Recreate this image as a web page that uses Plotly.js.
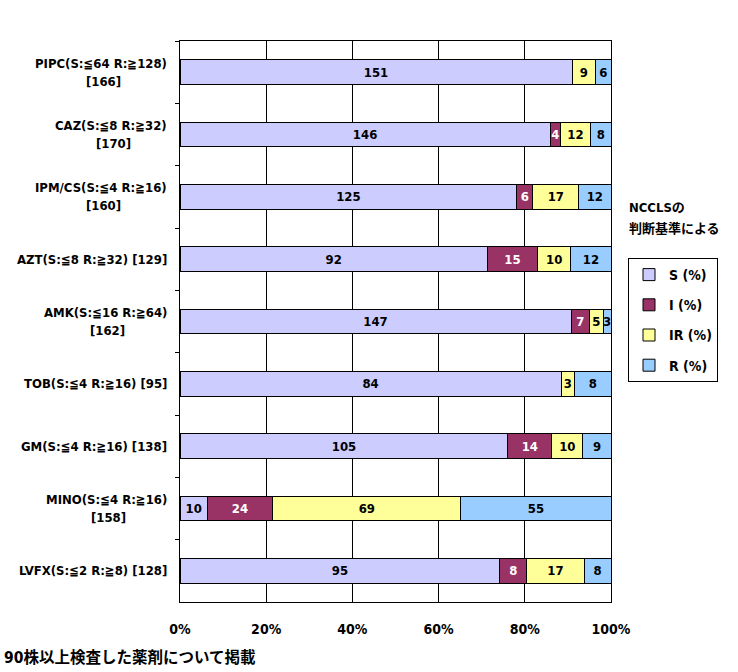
<!DOCTYPE html>
<html>
<head>
<meta charset="utf-8">
<script src="https://cdn.plot.ly/plotly-3.0.1.min.js"></script>
<style>html,body{margin:0;padding:0;background:#fff;}#chart{width:738px;height:672px;}</style>
</head>
<body>
<div id="chart"></div>
<script>
// ---- data (top to bottom) ----
const drugs = ['PIPC','CAZ','IPM/CS','AZT','AMK','TOB','GM','MINO','LVFX'];
const labelLine1 = [
  'PIPC(S:≦64 R:≧128)',
  'CAZ(S:≦8 R:≧32)',
  'IPM/CS(S:≦4 R:≧16)',
  'AZT(S:≦8 R:≧32) [129]',
  'AMK(S:≦16 R:≧64)',
  'TOB(S:≦4 R:≧16) [95]',
  'GM(S:≦4 R:≧16) [138]',
  'MINO(S:≦4 R:≧16)',
  'LVFX(S:≦2 R:≧8) [128]'
];
const labelLine2 = ['[166]','[170]','[160]','','[162]','','','[158]',''];
const seriesNames = ['S (%)','I (%)','IR (%)','R (%)'];
const valS  = [151,146,125, 92,147, 84,105, 10, 95];
const valI  = [  0,  4,  6, 15,  7,  0, 14, 24,  8];
const valIR = [  9, 12, 17, 10,  5,  3, 10, 69, 17];
const valR  = [  6,  8, 12, 12,  3,  8,  9, 55,  8];
const xTicks = [0,20,40,60,80,100];
const legendTitle1 = 'NCCLSの';
const legendTitle2 = '判断基準による';
const footNote = '90株以上検査した薬剤について掲載';

const FONT = '"DejaVu Sans Condensed", "Noto Sans CJK JP", sans-serif';
const LBL_SIZE = 13;
const colors = ['#CCCCFF','#993366','#FFFF99','#99CCFF'];
const textColors = ['#000000','#FFFFFF','#000000','#000000'];
const allVals = [valS, valI, valIR, valR];

const measureCtx = document.createElement('canvas').getContext('2d');
measureCtx.font = 'bold ' + LBL_SIZE + 'px ' + FONT;
function textWidth(s) { return measureCtx.measureText(s).width; }

const traces = allVals.map((vals, i) => ({
  type: 'bar',
  orientation: 'h',
  name: seriesNames[i],
  legendgroup: 'g' + i,
  y: drugs,
  x: vals,
  text: vals.map(v => v > 0 ? String(v) : ''),
  textposition: 'inside',
  insidetextanchor: 'middle',
  textangle: 0,
  constraintext: 'none',
  textfont: {family: FONT, size: 13, color: textColors[i], weight: 'bold'},
  marker: {color: colors[i], line: {color: '#000', width: 1}},
  hoverinfo: 'name+x'
}));

const lblFont = {family: FONT, size: LBL_SIZE, color: '#000', weight: 'bold'};
const annotations = [];
drugs.forEach((d, i) => {
  const two = !!labelLine2[i];
  annotations.push({
    xref: 'paper', yref: 'y', x: 0, y: d,
    xanchor: 'right', yanchor: 'middle', xshift: -11, yshift: two ? 9 : 0,
    showarrow: false, text: labelLine1[i], font: lblFont
  });
  if (two) {
    annotations.push({
      xref: 'paper', yref: 'y', x: 0, y: d,
      xanchor: 'center', yanchor: 'middle',
      xshift: -11 - textWidth(labelLine1[i]) / 2, yshift: -9,
      showarrow: false, text: labelLine2[i], font: lblFont
    });
  }
});
annotations.push({
  xref: 'paper', yref: 'paper', x: (627-180)/431, y: (602-207)/561,
  xanchor: 'left', yanchor: 'middle', showarrow: false, align: 'left',
  text: legendTitle1, font: lblFont
});
annotations.push({
  xref: 'paper', yref: 'paper', x: (627-180)/431, y: (602-229)/561,
  xanchor: 'left', yanchor: 'middle', showarrow: false, align: 'left',
  text: legendTitle2, font: lblFont
});
annotations.push({
  xref: 'paper', yref: 'paper', x: (2-180)/431, y: (602-657)/561,
  xanchor: 'left', yanchor: 'middle', showarrow: false, align: 'left',
  text: footNote, font: {family: FONT, size: 15.5, color: '#000', weight: 'bold'}
});

const layout = {
  width: 738, height: 672,
  margin: {l: 180, r: 127, t: 41, b: 70, pad: 0},
  paper_bgcolor: '#fff', plot_bgcolor: '#fff',
  barmode: 'stack', barnorm: 'percent', bargap: 0.6,
  showlegend: true,
  legend: {
    x: (628-180)/431, y: (602-258)/561, xanchor: 'left', yanchor: 'top',
    bordercolor: '#000', borderwidth: 1, bgcolor: '#fff',
    traceorder: 'grouped', tracegroupgap: 9, itemwidth: 30,
    font: {family: FONT, size: 14, color: '#000', weight: 'bold'}
  },
  xaxis: {
    range: [0, 100], tickvals: xTicks, ticktext: xTicks.map(v => v + '%'),
    showgrid: true, gridcolor: '#000', gridwidth: 1,
    showline: true, linecolor: '#000', linewidth: 1, mirror: true,
    zeroline: false, ticks: '', ticklabelstandoff: 14,
    tickfont: {family: FONT, size: 14, color: '#000', weight: 'bold'},
    fixedrange: true
  },
  yaxis: {
    type: 'category', autorange: 'reversed',
    showticklabels: false, showgrid: false,
    showline: true, linecolor: '#000', linewidth: 1, mirror: true,
    ticks: 'outside', tickson: 'boundaries', ticklen: 4, tickcolor: '#000',
    fixedrange: true
  },
  annotations: annotations
};

Plotly.newPlot('chart', traces, layout, {displayModeBar: false, staticPlot: true});
</script>
</body>
</html>
